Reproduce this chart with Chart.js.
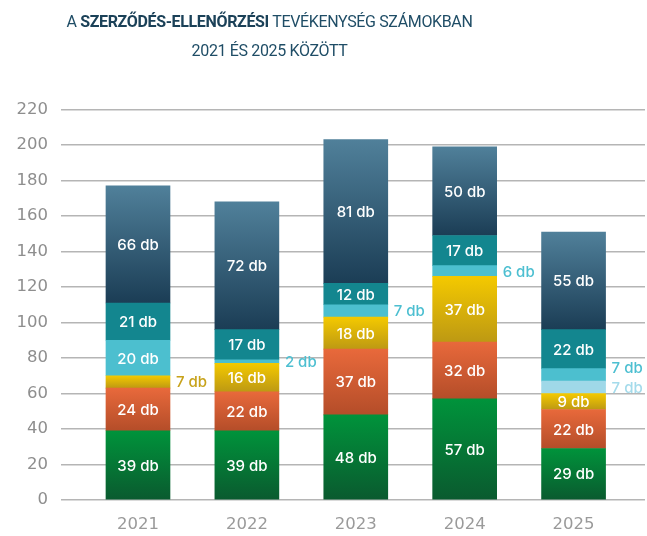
<!DOCTYPE html>
<html>
<head>
<meta charset="utf-8">
<script src="https://cdn.jsdelivr.net/npm/chart.js@4/dist/chart.umd.min.js"></script>
<style>
  html, body { margin: 0; padding: 0; background: #fff; }
  #wrap { position: relative; width: 647px; height: 536px; }
  #title {
    position: absolute; left: 0; top: 7px; width: 539px;
    text-align: center; font-family: Roboto, sans-serif; font-size: 16px;
    line-height: 29px; color: #1f4d66; letter-spacing: -0.35px;
  }
  #title b { color: #1b4158; font-weight: 700; }
  canvas { position: absolute; left: 0; top: 0; }
</style>
</head>
<body>
<div id="wrap">
  <canvas id="chart" width="647" height="536"></canvas>
  <div id="title">A <b>SZERZŐDÉS-ELLENŐRZÉSI</b> TEVÉKENYSÉG SZÁMOKBAN<br>2021 ÉS 2025 KÖZÖTT</div>
</div>
<script>
// ── DATA ────────────────────────────────────────────
const years  = [2021, 2022, 2023, 2024, 2025];
const green  = [39, 39, 48, 57, 29];
const orange = [24, 22, 37, 32, 22];
const yellow = [7, 16, 18, 37, 9];
const pale   = [null, null, null, null, 7];
const cyan   = [20, 2, 7, 6, 7];
const teal   = [21, 17, 12, 17, 22];
const navy   = [66, 72, 81, 50, 55];
const yMax = 220, yStep = 20;

// top / bottom colours of each segment, and colour of a label drawn beside the bar
const series = [
  { data: green,  top: '#00933b', bottom: '#0a5a2f', label: '#0a7a35' },
  { data: orange, top: '#e8693b', bottom: '#b44d29', label: '#d25d33' },
  { data: yellow, top: '#f4c900', bottom: '#bd9913', label: '#c7a21a' },
  { data: pale,   top: '#9fd8e8', bottom: '#9fd8e8', label: '#a4dbeb' },
  { data: cyan,   top: '#4cbfcf', bottom: '#4cbfcf', label: '#4dbfd1' },
  { data: teal,   top: '#13868f', bottom: '#13868f', label: '#13868f' },
  { data: navy,   top: '#50809a', bottom: '#1b3d55', label: '#1b3d55' },
];

function segColor(ctx) {
  const s = series[ctx.datasetIndex];
  const chart = ctx.chart;
  if (!chart.chartArea || ctx.dataIndex === undefined) return s.top;
  let start = 0;
  for (let d = 0; d < ctx.datasetIndex; d++) start += series[d].data[ctx.dataIndex] || 0;
  const v = s.data[ctx.dataIndex] || 0;
  const yS = chart.scales.y;
  const y0 = yS.getPixelForValue(start + v), y1 = yS.getPixelForValue(start);
  if (!isFinite(y0) || !isFinite(y1) || y0 === y1) return s.top;
  const g = chart.ctx.createLinearGradient(0, y0, 0, y1);
  g.addColorStop(0, s.top);
  g.addColorStop(1, s.bottom);
  return g;
}

// ── LABELS ──────────────────────────────────────────
const segLabels = {
  id: 'segLabels',
  afterDatasetsDraw(chart) {
    const c = chart.ctx;
    c.save();
    c.font = '500 15px Inter, sans-serif';
    c.textBaseline = 'middle';
    years.forEach((yr, i) => {
      const outside = [];
      series.forEach((s, d) => {
        const v = s.data[i];
        if (!v) return;
        const bar = chart.getDatasetMeta(d).data[i];
        const mid = (bar.y + bar.base) / 2;
        const txt = v + ' db';
        if (Math.abs(bar.base - bar.y) < 14) {
          outside.push({ txt, y: mid, x: bar.x + bar.width / 2 + 6, color: s.label });
        } else {
          c.fillStyle = '#ffffff';
          c.textAlign = 'center';
          c.fillText(txt, bar.x, mid + 1);
        }
      });
      outside.sort((a, b) => b.y - a.y);
      for (let k = 1; k < outside.length; k++) {
        if (outside[k - 1].y - outside[k].y < 20) outside[k].y = outside[k - 1].y - 20;
      }
      outside.forEach(o => {
        c.fillStyle = o.color;
        c.textAlign = 'left';
        c.fillText(o.txt, o.x, o.y + 1);
      });
    });
    c.restore();
  }
};

// ── CHART ───────────────────────────────────────────
const tickFont = { family: '"DejaVu Sans", sans-serif', size: 16.5 };

new Chart(document.getElementById('chart'), {
  type: 'bar',
  data: {
    labels: years,
    datasets: series.map(s => ({
      data: s.data,
      backgroundColor: segColor,
      borderWidth: 0,
      barThickness: 64
    }))
  },
  options: {
    responsive: false,
    animation: false,
    layout: { padding: { top: 109.5, right: 2, left: 0, bottom: 0 } },
    plugins: { legend: { display: false }, tooltip: { enabled: false } },
    scales: {
      x: {
        type: 'linear',
        stacked: true,
        offset: false,
        min: years[0] - 0.707,
        max: years[years.length - 1] + 0.656,
        grid: { display: false, drawTicks: false },
        border: { display: false },
        afterBuildTicks: s => { s.ticks = years.map(v => ({ value: v })); },
        afterFit: s => { s.height = 36; },
        ticks: {
          callback: v => String(v),
          color: '#9a9a9a',
          font: tickFont,
          padding: 15,
          autoSkip: false,
          maxRotation: 0
        }
      },
      y: {
        stacked: true,
        min: 0,
        max: yMax,
        afterFit: s => { s.width = 61; },
        ticks: { stepSize: yStep, color: '#8e8e8e', font: tickFont, padding: 13 },
        grid: { color: '#b5b5b5', lineWidth: 1.5, drawTicks: false },
        border: { display: false }
      }
    }
  },
  plugins: [segLabels]
});
</script>
</body>
</html>
